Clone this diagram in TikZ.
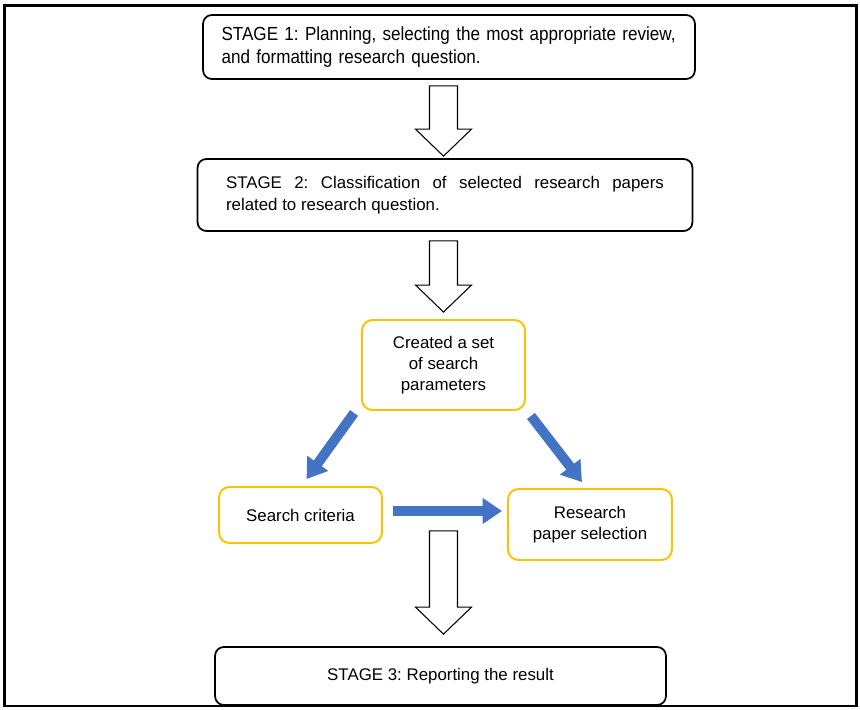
\documentclass[tikz,border=0pt]{standalone}
\usepackage{fontspec}
\setmainfont{Liberation Sans}
\newfontfamily\narrowsans[FakeStretch=0.9]{Liberation Sans}
\usetikzlibrary{positioning,calc,arrows.meta}
\frenchspacing
\hyphenpenalty=10000
\exhyphenpenalty=10000

\definecolor{stagegold}{HTML}{FFC000}
\definecolor{arrowblue}{HTML}{4472C4}

% hollow block arrow from tail (#1) down to tip (#2)
\newcommand{\blockarrow}[2]{%
  \draw[hollow] ($(#1)+(-14,0)$) -- ($(#2)+(-14,-27)$) -- ($(#2)+(-28,-27)$) -- (#2)
    -- ($(#2)+(28,-27)$) -- ($(#2)+(14,-27)$) -- ($(#1)+(14,0)$) -- cycle;}

\begin{document}
\begin{tikzpicture}[x=0.02cm,y=-0.02cm,
    stagebox/.style={draw=black,line width=1pt,rounded corners=5pt,fill=white},
    searchbox/.style={draw=stagegold,line width=1.1pt,rounded corners=6pt,align=center,
      font=\fontsize{9.6}{12}\selectfont},
    bluearrow/.style={arrowblue,line width=5.6pt,-{Triangle[length=11pt,width=14pt]}},
    hollow/.style={draw=black,line width=0.6pt,fill=white}]

    \useasboundingbox (0,0) rectangle (860,710);

    % stages
    \node[stagebox,minimum width=9.84cm,minimum height=1.28cm,text width=9.1cm,align=left,
      font=\narrowsans\fontsize{10.8}{13}\selectfont] (s1) at (449,47)
      {STAGE 1: Planning, selecting the most appropriate review,\\and formatting research question.};
    \node[stagebox,minimum width=9.9cm,minimum height=1.44cm,text width=8.76cm,align=justify,
      font=\fontsize{9.6}{12.5}\selectfont] (s2) at (445,195)
      {STAGE 2: Classification of selected research papers\linebreak related to research question.};
    \node[stagebox,minimum width=9.02cm,minimum height=1.16cm,
      font=\fontsize{9.6}{12}\selectfont] (s3) at (440.5,676) {STAGE 3: Reporting the result};

    % search step
    \node[searchbox,minimum width=3.26cm,minimum height=1.8cm] (p) at (443.5,365)
      {Created a set\\of search\\parameters};
    \node[searchbox,minimum width=3.26cm,minimum height=1.12cm] (sc) at (300.5,515) {Search criteria};
    \node[searchbox,minimum width=3.28cm,minimum height=1.42cm] (rp) at (590,524.5)
      {Research\\paper selection};

    % block arrows
    \coordinate (t1) at ($(s1.south -| p)+(0,6)$);
    \coordinate (h1) at ($(s2.north -| p)+(0,-2)$);
    \coordinate (t2) at ($(s2.south -| p)+(0,9)$);
    \coordinate (h2) at ($(p.north)+(0,-7)$);
    \coordinate (t3) at ($(p.south)+(0,120)$);
    \coordinate (h3) at ($(s3.north -| p)+(0,-12)$);
    \blockarrow{t1}{h1}
    \blockarrow{t2}{h2}
    \blockarrow{t3}{h3}

    % blue arrows
    \draw[bluearrow] ($(p.south west)+(-7,2)$) -- ($(sc.north)+(6,-7)$);
    \draw[bluearrow] ($(p.south east)+(5,5)$) -- ($(rp.north)+(-8,-6)$);
    \draw[bluearrow] ($(sc.east)+(10,-4)$) -- ($(rp.west |- sc.east)+(-5,-4)$);

    % frame
    \draw[line width=1.7pt] (4.5,5.5) rectangle (856.5,706);
\end{tikzpicture}
\end{document}
